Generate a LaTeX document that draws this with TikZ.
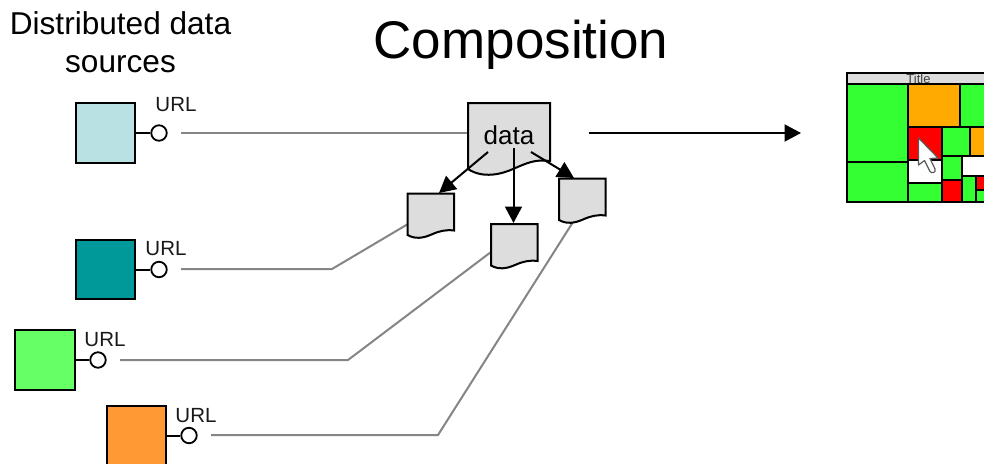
\documentclass[tikz,border=0pt]{standalone}
\usepackage{fontspec}
\setmainfont{Liberation Sans}
\usetikzlibrary{arrows.meta}
\definecolor{docgray}{HTML}{DDDDDD}
\definecolor{srcblue}{HTML}{B9E1E4}
\definecolor{srcteal}{HTML}{009999}
\definecolor{srcgreen}{HTML}{66FF66}
\definecolor{srcorange}{HTML}{FF9933}
\definecolor{tmgreen}{HTML}{33FF33}
\definecolor{tmorange}{HTML}{FFAA00}
\definecolor{wire}{HTML}{858585}
\tikzset{
  x=1pt,y=-1pt,
  source/.style={draw=black,line width=2pt,inner sep=0pt,minimum width=59.5pt,minimum height=59.5pt},
  port/.style={circle,draw=black,fill=white,line width=1.8pt,inner sep=0pt,minimum size=15.5pt},
  stub/.style={draw=black,line width=2pt},
  wireline/.style={draw=wire,line width=2pt},
  flow/.style={draw=black,line width=2pt,-{Triangle[length=16.5pt,width=17pt]},shorten >=0pt},
  docshape/.style={draw=black,fill=docgray,line width=2pt,line join=miter},
  urllabel/.style={font=\fontsize{20.5}{22}\selectfont,inner sep=0pt,text=black!90},
  cell/.style={draw=black,line width=2pt},
}
\newcommand{\smalldoc}[3]{% name, left, top
  \begin{scope}[shift={(#2,#3)}]
  \path[docshape] (0,0) -- (46.5,0) -- (46.5,37)
    .. controls (38,36) and (32,37.5) .. (24,41)
    .. controls (16,44.5) and (8,46) .. (0,41.5) -- cycle;
  \end{scope}
  \node[inner sep=0pt,minimum width=46.5pt,minimum height=44pt,anchor=north west] (#1) at (#2,#3) {};
}
\begin{document}
\begin{tikzpicture}
\useasboundingbox[fill=white] (0,0) rectangle (984,463);
% titles
\node[font=\fontsize{31.6}{38}\selectfont,align=center,inner sep=0pt] (heading) at (120.5,42) {Distributed data\\sources};
\node[font=\fontsize{53}{60}\selectfont,inner sep=0pt] (title) at (521,45) {Composition};
% junction points of the wires
\coordinate (b1) at (332,269);
\coordinate (b2) at (348,360);
\coordinate (b3) at (438,435);
\coordinate (w0) at (181,133);
\coordinate (w1) at (181,269);
\coordinate (w2) at (120,360);
\coordinate (w3) at (211,435);
\coordinate (e1) at (408,224);
\coordinate (e2) at (491,252);
\coordinate (e3) at (573,222);
\coordinate (e0) at (468,133);
% wires
\draw[wireline] (w0) -- (e0);
\draw[wireline] (w1) -- (b1) -- (e1);
\draw[wireline] (w2) -- (b2) -- (e2);
\draw[wireline] (w3) -- (b3) -- (e3);
% sources
\node[source,fill=srcblue] (s0) at (105.5,133) {};
\node[source,fill=srcteal] (s1) at (105.5,269.5) {};
\node[source,fill=srcgreen] (s2) at (45,360) {};
\node[source,fill=srcorange] (s3) at (136.5,435.5) {};
\node[port] (p0) at (159,133) {};
\node[port] (p1) at (159,269.5) {};
\node[port] (p2) at (98,360) {};
\node[port] (p3) at (189,435.5) {};
\draw[stub] (s0.east) -- (p0.west);
\draw[stub] (s1.east) -- (p1.west);
\draw[stub] (s2.east) -- (p2.west);
\draw[stub] (s3.east) -- (p3.west);
\node[urllabel] (u0) at (176,104.5) {URL};
\node[urllabel] (u1) at (166,248.5) {URL};
\node[urllabel] (u2) at (105,339.5) {URL};
\node[urllabel] (u3) at (196,415.5) {URL};
% documents
\path[docshape] (468,103) -- (550,103) -- (550,161)
  .. controls (535,159) and (527,163) .. (513,169)
  .. controls (502,174) and (483,179) .. (468,169) -- cycle;
\node[font=\fontsize{26}{30}\selectfont,inner sep=0pt] (data) at (509,135.5) {data};
\smalldoc{d1}{407.5}{193.5}
\smalldoc{d2}{491}{224}
\smalldoc{d3}{559}{178.5}
% flows
\coordinate (f1) at (488,152);
\coordinate (f2) at (513.5,148);
\coordinate (f3) at (531,152);
\draw[flow] (f1) -- (439,193);
\draw[flow] (f2) -- (513.5,223);
\draw[flow] (f3) -- (574,178);
\coordinate (g0) at (589,133);
\coordinate (g1) at (801,133);
\draw[flow] (g0) -- (g1);
% treemap
\begin{scope}
\clip (844,70) rectangle (984,204);
\draw[cell,fill=docgray] (846.5,72.5) rectangle (1000,84);
\node[font=\fontsize{13}{14}\selectfont,inner sep=0pt,text=black!75] (tmtitle) at (918.5,78.5) {Title};
\draw[cell,fill=tmgreen] (846.5,84) rectangle (908,161.5);
\draw[cell,fill=tmgreen] (846.5,161.5) rectangle (908,201.5);
\draw[cell,fill=tmorange] (908,84) rectangle (959.5,126.5);
\draw[cell,fill=tmgreen] (959.5,84) rectangle (1000,126.5);
\draw[cell,fill=red] (908,126.5) rectangle (942,160);
\draw[cell,fill=white] (908,160) rectangle (942,183);
\draw[cell,fill=tmgreen] (908,183) rectangle (942,201.5);
\draw[cell,fill=tmgreen] (942,126.5) rectangle (969.5,156);
\draw[cell,fill=tmorange] (969.5,126.5) rectangle (1000,156);
\draw[cell,fill=tmgreen] (942,156) rectangle (962,179.5);
\draw[cell,fill=red] (942,179.5) rectangle (962,201.5);
\draw[cell,fill=white] (962,156) rectangle (1000,176);
\draw[cell,fill=tmgreen] (962,176) rectangle (976,201.5);
\draw[cell,fill=red] (976,176) rectangle (1000,190);
\draw[cell,fill=tmgreen] (976,190) rectangle (1000,201.5);
\end{scope}
% mouse pointer
\path[draw=black!65,fill=white,line width=1.2pt,line join=round]
  (918.5,138) -- (918.5,165) -- (924.5,160.5) -- (930,171.5) .. controls (932,174) and (936,172.5) .. (935,169)
  -- (930,158.5) -- (938,158) -- cycle;
\end{tikzpicture}
\end{document}
